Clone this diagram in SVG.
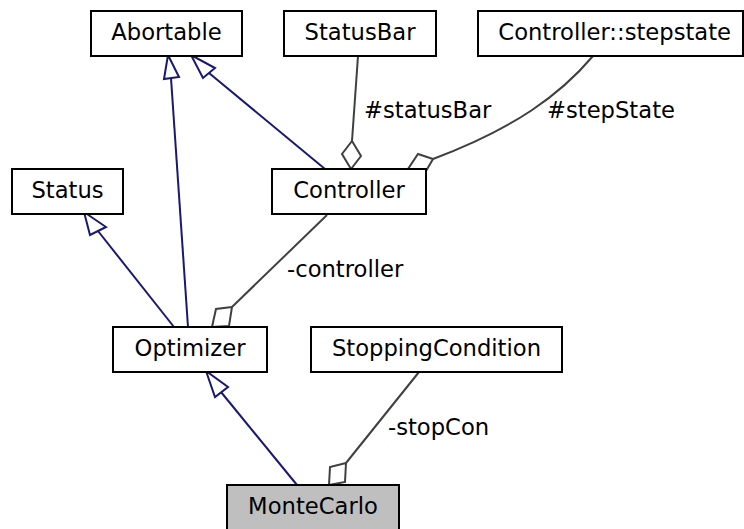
<svg xmlns="http://www.w3.org/2000/svg" width="744" height="529" viewBox="0 0 744 529">
<style>
.box{fill:#ffffff;stroke:#000000;stroke-width:2}
.cur{fill:#bfbfbf;stroke:#000000;stroke-width:2}
.t{font-family:"DejaVu Sans",sans-serif;font-size:22.67px;fill:#000000;text-anchor:middle}
.lbl{font-family:"DejaVu Sans",sans-serif;font-size:22.67px;fill:#000000}
.inh{stroke:#191970;stroke-width:2;fill:none}
.inhh{stroke:#191970;stroke-width:2;fill:#ffffff}
.agg{stroke:#404040;stroke-width:2;fill:none}
.aggh{stroke:#404040;stroke-width:2;fill:#ffffff}
</style>
<rect width="744" height="529" fill="#ffffff"/>
<g id="edges">
<line class="inh" x1="188" y1="327" x2="171" y2="78"/>
<polygon class="inhh" points="168,55 164,79 179,77"/>
<line class="inh" x1="325" y1="169" x2="209" y2="73"/>
<polygon class="inhh" points="191,55 203,78 215,68"/>
<line class="inh" x1="174" y1="327" x2="98" y2="231"/>
<polygon class="inhh" points="84,212 90,235 106,227"/>
<line class="inh" x1="297" y1="485" x2="221" y2="392"/>
<polygon class="inhh" points="206,371 215,397 228,387"/>
<line class="agg" x1="358" y1="56" x2="352" y2="141"/>
<polygon class="aggh" points="352,141 342,154 351,169 361,156"/>
<path class="agg" d="M593,56 C560,95 515,128 433,159"/>
<polygon class="aggh" points="433,159 418,154 408,169 426,171"/>
<line class="agg" x1="327" y1="215" x2="232" y2="307"/>
<polygon class="aggh" points="232,307 216,309 212,327 229,326"/>
<line class="agg" x1="419" y1="372" x2="346" y2="463"/>
<polygon class="aggh" points="346,463 330,467 329,485 345,482"/>
<text class="lbl" x="364" y="118">#statusBar</text>
<text class="lbl" x="547" y="118">#stepState</text>
<text class="lbl" x="287" y="277">-controller</text>
<text class="lbl" x="388" y="435">-stopCon</text>
</g>
<g id="Abortable"><rect class="box" x="91" y="11" width="151" height="45"/><text class="t" x="166.5" y="40">Abortable</text></g>
<g id="StatusBar"><rect class="box" x="284" y="11" width="152" height="45"/><text class="t" x="360" y="40">StatusBar</text></g>
<g id="Controller_stepstate"><rect class="box" x="478" y="11" width="265" height="45"/><text class="t" x="614.7" y="40">Controller::stepstate</text></g>
<g id="Status"><rect class="box" x="12" y="169" width="111" height="45"/><text class="t" x="67.5" y="198">Status</text></g>
<g id="Controller"><rect class="box" x="272" y="169" width="154" height="45"/><text class="t" x="349" y="198">Controller</text></g>
<g id="Optimizer"><rect class="box" x="113" y="327" width="154" height="45"/><text class="t" x="190" y="356">Optimizer</text></g>
<g id="StoppingCondition"><rect class="box" x="311" y="327" width="251" height="45"/><text class="t" x="436.5" y="356">StoppingCondition</text></g>
<g id="MonteCarlo"><rect class="cur" x="227" y="485" width="172" height="45"/><text class="t" x="313" y="514">MonteCarlo</text></g>
</svg>
